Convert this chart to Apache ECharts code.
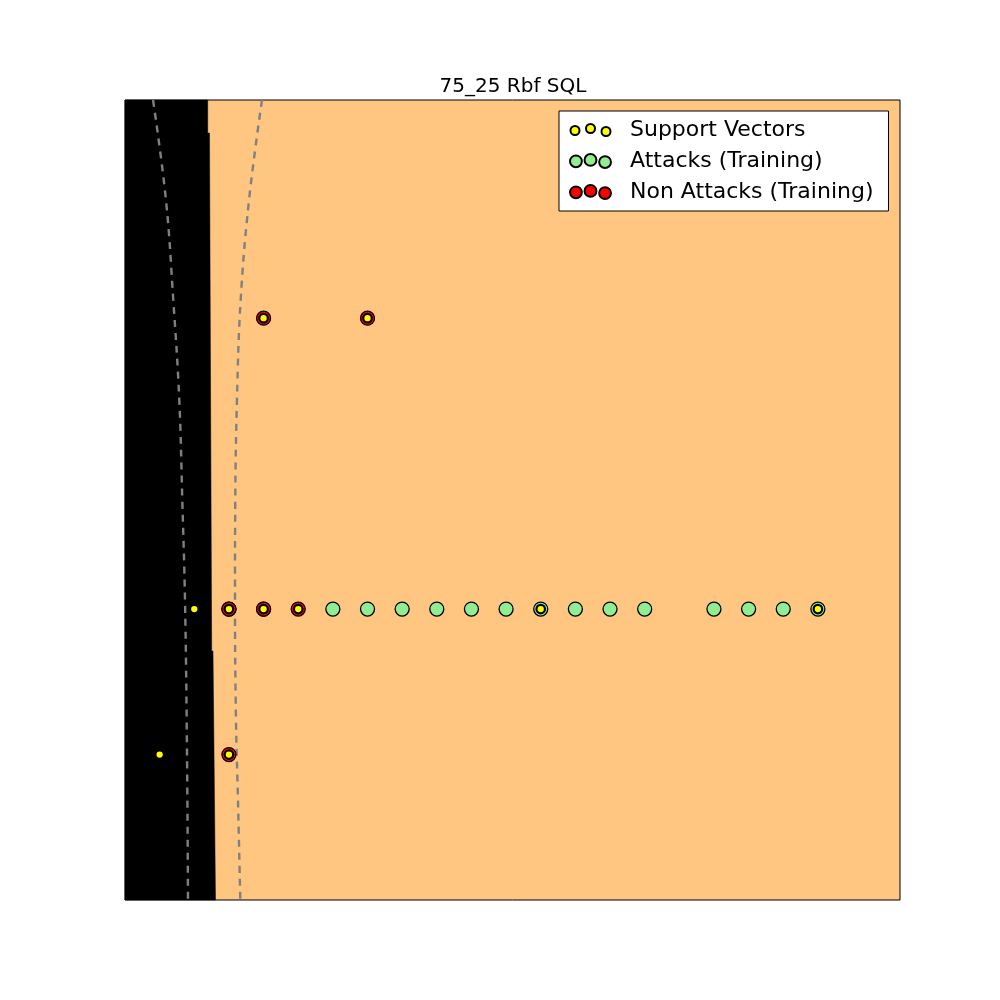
<!DOCTYPE html>
<html>
<head>
<meta charset="utf-8">
<script src="https://cdn.jsdelivr.net/npm/echarts@6/dist/echarts.min.js"></script>
<style>html,body{margin:0;padding:0;background:#fff;}#c{width:1000px;height:1000px;}</style>
</head>
<body>
<div id="c"></div>
<script>
// ---- data ----
const titleText = '75_25 Rbf SQL';
const seriesNames = ['Support Vectors', 'Attacks (Training)', 'Non Attacks (Training)'];

// support vectors
const svX = [0, 1, 2, 3, 10, 18, 2, 5, -1, 1];
const svY = [1, 1, 1, 1, 1, 1, 3, 3, 0, 0];

// attacks (training)
const attackX = [1, 2, 4, 5, 6, 7, 8, 9, 10, 11, 12, 13, 15, 16, 17, 18];
const attackY = [1, 1, 1, 1, 1, 1, 1, 1, 1, 1, 1, 1, 1, 1, 1, 1];

// non attacks (training)
const nonAttackX = [1, 2, 3, 2, 5, 1];
const nonAttackY = [1, 1, 1, 3, 3, 0];

// decision region (class boundary) polygon
const regionX = [-2, 0.387, 0.387, 0.439, 0.502, 0.540, 0.612, -2];
const regionY = [4.5, 4.5, 4.273, 4.273, 0.712, 0.712, -1, -1];

// margin contours (dashed)
const marginLeftX = [-1.19, -0.817, -0.606, -0.433, -0.346, -0.268, -0.211, -0.182];
const marginLeftY = [4.5, 3.81, 3.125, 2.44, 1.75, 1.06, 0.031, -1];
const marginRightX = [1.954, 1.579, 1.339, 1.232, 1.183, 1.175, 1.203, 1.261, 1.328];
const marginRightY = [4.5, 3.81, 3.125, 2.44, 1.75, 1.06, 0.24, -0.31, -1];

// axis ranges
const xMin = -2, xMax = 20.37;
const yMin = -1, yMax = 4.5;

// ---- build ----
const zip = (xs, ys) => xs.map((x, i) => [x, ys[i]]);

function threeCircles(r, ys) {
  const xs = [7, 22.5, 38];
  let p = 'path://M0,0 M45,14 ';
  xs.forEach((cx, i) => {
    const cy = ys[i];
    p += 'M' + (cx - r) + ',' + cy + ' a' + r + ',' + r + ' 0 1,0 ' + (2 * r) + ',0 a' + r + ',' + r + ' 0 1,0 ' + (-2 * r) + ',0 Z ';
  });
  return p;
}

const chart = echarts.init(document.getElementById('c'), null, {renderer: 'canvas'});
const option = {
  animation: false,
  backgroundColor: '#ffffff',
  textStyle: {fontFamily: 'DejaVu Sans'},
  title: {
    text: titleText,
    left: 508,
    textAlign: 'center',
    top: 72,
    textStyle: {fontFamily: 'DejaVu Sans', fontSize: 20, fontWeight: 'normal', color: '#000'}
  },
  grid: {
    left: 125, top: 100, width: 775, height: 800,
    show: true, backgroundColor: '#fec680', borderColor: '#000', borderWidth: 1
  },
  xAxis: {type: 'value', min: xMin, max: xMax, show: false},
  yAxis: {type: 'value', min: yMin, max: yMax, show: false},
  legend: {
    left: 559, top: 111,
    orient: 'vertical',
    padding: [8, 15, 8, 8],
    itemWidth: 45, itemHeight: 14, itemGap: 9,
    backgroundColor: '#fff', borderColor: '#000', borderWidth: 1, borderRadius: 0,
    selectedMode: false,
    textStyle: {fontFamily: 'DejaVu Sans', fontSize: 22, lineHeight: 22, color: '#000', padding: [0, 0, 0, 12]},
    data: [
      {name: seriesNames[0], icon: threeCircles(4.5, [7.5, 5.5, 8.5])},
      {name: seriesNames[1], icon: threeCircles(6.3, [7.5, 6, 8.3])},
      {name: seriesNames[2], icon: threeCircles(6.3, [7.5, 6, 8.3])}
    ]
  },
  series: [
    {
      name: 'region',
      type: 'custom',
      silent: true,
      z: 1,
      data: [0],
      renderItem: function (params, api) {
        const pts = regionX.map((x, i) => api.coord([x, regionY[i]]));
        return {type: 'polygon', shape: {points: pts}, style: {fill: '#000', stroke: '#000', lineWidth: 0.5}};
      }
    },
    {
      name: 'marginLeft', type: 'line', data: zip(marginLeftX, marginLeftY), smooth: 0.4,
      showSymbol: false, silent: true, z: 2,
      lineStyle: {color: '#808080', width: 2.4, type: [7, 6]}
    },
    {
      name: 'marginRight', type: 'line', data: zip(marginRightX, marginRightY), smooth: 0.4,
      showSymbol: false, silent: true, z: 2,
      lineStyle: {color: '#808080', width: 2.4, type: [7, 6]}
    },
    {
      name: seriesNames[1], type: 'scatter', data: zip(attackX, attackY), symbolSize: 14, z: 3,
      itemStyle: {color: '#90ee90', borderColor: '#000', borderWidth: 1.3, opacity: 1}
    },
    {
      name: seriesNames[2], type: 'scatter', data: zip(nonAttackX, nonAttackY), symbolSize: 14, z: 4,
      itemStyle: {color: '#ff0000', borderColor: '#000', borderWidth: 1.3, opacity: 1}
    },
    {
      name: seriesNames[0], type: 'scatter', data: zip(svX, svY), symbolSize: 8.5, z: 5,
      itemStyle: {color: '#ffff00', borderColor: '#000', borderWidth: 2.2, opacity: 1}
    }
  ]
};
chart.setOption(option);
</script>
</body>
</html>
